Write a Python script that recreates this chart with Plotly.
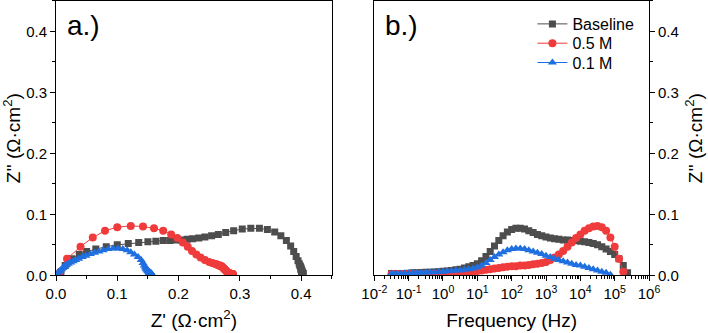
import plotly.graph_objects as go

# ---------------- data ----------------
series_names = ["Baseline", "0.5 M", "0.1 M"]
series_colors = ["#4d4d4d", "#ef3b3b", "#1f6fe0"]

# frequency (Hz), common to all series (high index = high frequency)
freq = [0.0316, 0.0422, 0.0562, 0.0750, 0.100, 0.133, 0.178, 0.237, 0.316, 0.422,
        0.562, 0.750, 1.00, 1.33, 1.78, 2.37, 3.16, 4.22, 5.62, 7.50,
        10.0, 13.3, 17.8, 23.7, 31.6, 42.2, 56.2, 75.0, 100, 133,
        178, 237, 316, 422, 562, 750, 1000, 1334, 1778, 2371,
        3162, 4217, 5623, 7499, 10000, 13335, 17783, 23714, 31623, 42170,
        56234, 74989, 100000, 133352, 177828, 237137, 316228]

# Z'' (Ohm cm2)
zim_base = [0.003, 0.003, 0.003, 0.003, 0.0035, 0.004, 0.004, 0.0045, 0.005, 0.005,
            0.0055, 0.006, 0.0065, 0.007, 0.008, 0.009, 0.010, 0.012, 0.014, 0.016,
            0.019, 0.024, 0.031, 0.039, 0.048, 0.057, 0.065, 0.071, 0.075, 0.077,
            0.077, 0.076, 0.073, 0.070, 0.067, 0.065, 0.063, 0.061, 0.060, 0.059,
            0.058, 0.058, 0.057, 0.057, 0.056, 0.055, 0.054, 0.052, 0.050, 0.047,
            0.043, 0.039, 0.034, 0.027, 0.016, 0.004, None]
zre_base = [0.403, 0.403, 0.403, 0.403, 0.402, 0.402, 0.402, 0.402, 0.402, 0.401,
            0.401, 0.401, 0.401, 0.401, 0.401, 0.400, 0.400, 0.400, 0.399, 0.398,
            0.397, 0.395, 0.392, 0.388, 0.383, 0.376, 0.367, 0.357, 0.345, 0.332,
            0.318, 0.304, 0.290, 0.277, 0.265, 0.254, 0.243, 0.233, 0.223, 0.214,
            0.205, 0.196, 0.186, 0.175, 0.163, 0.150, 0.135, 0.118, 0.100, 0.082,
            0.065, 0.050, 0.038, 0.026, 0.015, 0.008, None]

zim_05 = [0.002, 0.002, 0.002, 0.002, 0.002, 0.002, 0.002, 0.002, 0.002, 0.0025,
          0.0025, 0.0025, 0.0025, 0.003, 0.003, 0.0035, 0.004, 0.004, 0.005, 0.006,
          0.007, 0.008, 0.009, 0.010, 0.011, 0.012, 0.013, 0.014, 0.015, 0.015,
          0.016, 0.016, 0.017, 0.018, 0.019, 0.020, 0.022, 0.025, 0.029, 0.034,
          0.040, 0.047, 0.054, 0.061, 0.067, 0.073, 0.077, 0.080, 0.081, 0.079,
          0.073, 0.062, 0.047, 0.027, 0.006, None, None]
zre_05 = [0.289, 0.288, 0.288, 0.288, 0.287, 0.287, 0.287, 0.286, 0.286, 0.286,
          0.285, 0.285, 0.284, 0.284, 0.283, 0.282, 0.282, 0.281, 0.280, 0.279,
          0.278, 0.277, 0.276, 0.275, 0.274, 0.273, 0.272, 0.271, 0.270, 0.269,
          0.268, 0.266, 0.264, 0.262, 0.259, 0.255, 0.250, 0.243, 0.236, 0.229,
          0.222, 0.215, 0.207, 0.198, 0.188, 0.175, 0.160, 0.142, 0.122, 0.100,
          0.080, 0.060, 0.040, 0.018, 0.007, None, None]

zim_01 = [0.003, 0.003, 0.003, 0.0035, 0.0035, 0.004, 0.004, 0.004, 0.0045, 0.005,
          0.005, 0.0055, 0.006, 0.0065, 0.007, 0.008, 0.008, 0.009, 0.010, 0.011,
          0.013, 0.016, 0.020, 0.025, 0.030, 0.034, 0.038, 0.041, 0.043, 0.044,
          0.044, 0.043, 0.041, 0.039, 0.037, 0.035, 0.032, 0.030, 0.027, 0.025,
          0.023, 0.021, 0.019, 0.017, 0.016, 0.014, 0.012, 0.010, 0.008, 0.006,
          0.004, 0.001, None, None, None, None, None]
zre_01 = [0.156, 0.155, 0.155, 0.155, 0.154, 0.154, 0.154, 0.153, 0.153, 0.153,
          0.152, 0.152, 0.152, 0.151, 0.151, 0.150, 0.150, 0.149, 0.148, 0.147,
          0.146, 0.144, 0.142, 0.139, 0.134, 0.128, 0.122, 0.116, 0.109, 0.101,
          0.093, 0.085, 0.077, 0.070, 0.063, 0.056, 0.049, 0.043, 0.037, 0.032,
          0.028, 0.024, 0.020, 0.017, 0.015, 0.013, 0.011, 0.009, 0.007, 0.005,
          0.003, 0.001, None, None, None, None, None]

lin_ticks = [0.0, 0.1, 0.2, 0.3, 0.4]
lin_ticklabels = ["0.0", "0.1", "0.2", "0.3", "0.4"]
log_tickvals = [0.01, 0.1, 1, 10, 100, 1e3, 1e4, 1e5, 1e6]
log_ticklabels = ["10<sup>-2</sup>", "10<sup>-1</sup>", "10<sup>0</sup>", "10<sup>1</sup>",
                  "10<sup>2</sup>", "10<sup>3</sup>", "10<sup>4</sup>", "10<sup>5</sup>",
                  "10<sup>6</sup>"]

# ---------------- figure ----------------
FONT = "Arial, 'Liberation Sans', sans-serif"
symbols = ["square", "circle", "triangle-up"]
sizes = [7, 8, 8]
zims = [zim_base, zim_05, zim_01]
zres = [zre_base, zre_05, zre_01]
legend_ids = ["legend", "legend2", "legend3"]
legend_y = [0.928, 0.870, 0.812]

fig = go.Figure()
for name, col, sym, sz, zr, zi in zip(series_names, series_colors, symbols, sizes, zres, zims):
    fig.add_trace(go.Scatter(x=zr, y=zi, mode="lines+markers", name=name,
                             line=dict(color=col, width=1),
                             marker=dict(symbol=sym, size=sz, color=col, line=dict(width=0)),
                             xaxis="x", yaxis="y", showlegend=False))
for name, col, sym, sz, zi, lg in zip(series_names, series_colors, symbols, sizes, zims, legend_ids):
    fig.add_trace(go.Scatter(x=freq, y=zi, mode="lines+markers", name=name,
                             line=dict(color=col, width=1),
                             marker=dict(symbol=sym, size=sz, color=col, line=dict(width=0)),
                             xaxis="x2", yaxis="y2", showlegend=True, legend=lg))

common_axis = dict(showline=True, linecolor="black", linewidth=1, mirror=True,
                   ticks="outside", ticklen=5, tickwidth=1, tickcolor="black",
                   showgrid=False, zeroline=False, automargin=False,
                   tickfont=dict(family=FONT, size=15, color="black"))

minor_log = [m * 10 ** k for k in range(-2, 6) for m in range(2, 10)]
TITLE_FONT = dict(family=FONT, size=19, color="black")

legends = {}
for lg, ly in zip(legend_ids, legend_y):
    legends[lg] = dict(x=0.752, y=ly, xanchor="left", yanchor="middle",
                       bgcolor="rgba(0,0,0,0)", borderwidth=0,
                       font=dict(family=FONT, size=16, color="black"),
                       tracegroupgap=0, itemwidth=30)

fig.update_layout(
    width=708, height=333,
    margin=dict(l=0, r=0, t=0, b=0, autoexpand=False),
    paper_bgcolor="white", plot_bgcolor="white",
    font=dict(family=FONT, color="black"),
    xaxis=dict(domain=[0.0791, 0.4685], range=[0, 0.45], anchor="y",
               tickvals=lin_ticks, ticktext=lin_ticklabels,
               minor=dict(ticks="outside", ticklen=3, tickcolor="black", dtick=0.05, tick0=0),
               title=dict(text="Z' (Ω·cm<sup>2</sup>)", font=TITLE_FONT, standoff=12),
               **common_axis),
    yaxis=dict(domain=[0.1733, 0.997], range=[0, 0.45], anchor="x",
               tickvals=lin_ticks, ticktext=lin_ticklabels,
               minor=dict(ticks="outside", ticklen=3, tickcolor="black", dtick=0.05, tick0=0),
               title=dict(text="Z'' (Ω·cm<sup>2</sup>)", font=TITLE_FONT, standoff=4),
               **common_axis),
    xaxis2=dict(domain=[0.5287, 0.9167], type="log", range=[-2, 6], anchor="y2",
                tickvals=log_tickvals, ticktext=log_ticklabels,
                minor=dict(ticks="outside", ticklen=3, tickcolor="black", tickvals=minor_log),
                title=dict(text="Frequency (Hz)", font=TITLE_FONT, standoff=12),
                **common_axis),
    yaxis2=dict(domain=[0.1733, 0.997], range=[0, 0.45], anchor="x2", side="right",
                tickvals=lin_ticks, ticktext=lin_ticklabels,
                minor=dict(ticks="outside", ticklen=3, tickcolor="black", dtick=0.05, tick0=0),
                title=dict(text="Z'' (Ω·cm<sup>2</sup>)", font=TITLE_FONT, standoff=10),
                **common_axis),
    annotations=[
        dict(text="a.)", x=0.092, y=0.975, xref="paper", yref="paper",
             xanchor="left", yanchor="top", showarrow=False,
             font=dict(family=FONT, size=28, color="black")),
        dict(text="b.)", x=0.541, y=0.975, xref="paper", yref="paper",
             xanchor="left", yanchor="top", showarrow=False,
             font=dict(family=FONT, size=28, color="black")),
    ],
    **legends,
)

fig.write_html("out.html")
